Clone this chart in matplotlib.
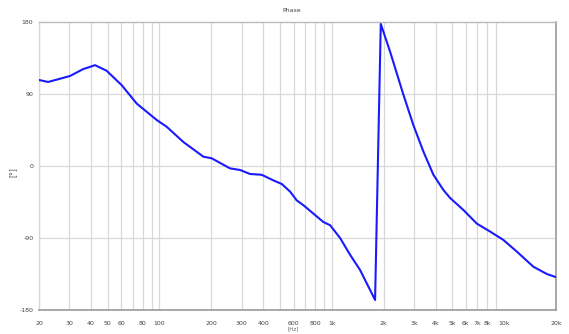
import matplotlib
matplotlib.use("Agg")
import matplotlib.pyplot as plt
from matplotlib.ticker import FixedLocator, NullFormatter, NullLocator

# Phase response, frequency in Hz and phase in degrees
freq_hz = [20, 22.6, 30.3, 36, 42.3, 49.4, 60.4, 73.8, 96.4, 110.2, 137.6,
           179.9, 201, 256.8, 293.6, 335.6, 392.3, 458, 512.5, 572.6, 626,
           684, 893, 977, 1117, 1277, 1459, 1783, 1924, 2178, 2604, 2975,
           3400, 3886, 4443, 4858, 5803, 6940, 8292, 9903, 11844, 14790,
           17690, 20000]
phase_deg = [107.5, 105, 112.5, 121, 126, 119, 101, 78, 57.5, 49, 30,
             11.6, 9.6, -3, -5, -10, -11, -18, -22.5, -32, -43,
             -49, -70, -74, -90, -111, -130, -167.5, 177.5, 143, 89, 51,
             18, -11, -30, -40, -55, -72, -82, -92.5, -107, -126,
             -135, -139]

grid_freqs = [m * 10 ** e for e in (1, 2, 3) for m in range(1, 10)
              if 20 <= m * 10 ** e <= 20000] + [20000]
label_freqs = [20, 30, 40, 50, 60, 80, 100, 200, 300, 400, 600, 800, 1000,
               2000, 3000, 4000, 5000, 6000, 7000, 8000, 10000, 20000]
label_texts = ["20", "30", "40", "50", "60", "80", "100", "200", "300", "400",
               "600", "800", "1k", "2k", "3k", "4k", "5k", "6k", "7k", "8k",
               "10k", "20k"]
y_ticks = [-180, -90, 0, 90, 180]

fig = plt.figure(figsize=(5.69, 3.34), dpi=100)
ax = fig.add_axes([0.0685, 0.0719, 0.9087, 0.8623])
ax.set_xscale("log")
ax.set_xlim(20, 20000)
ax.set_ylim(-180, 180)

grid_color = "#d8d8d8"
for f in grid_freqs:
    ax.axvline(f, color=grid_color, lw=0.9, zorder=0)
for y in (-90, 0, 90):
    ax.axhline(y, color=grid_color, lw=0.9, zorder=0)

ax.plot(freq_hz, phase_deg, color="#1a1aff", lw=1.5, zorder=3,
        solid_joinstyle="round")

ax.xaxis.set_major_locator(FixedLocator(label_freqs))
ax.set_xticklabels(label_texts)
ax.xaxis.set_minor_locator(NullLocator())
ax.xaxis.set_minor_formatter(NullFormatter())
ax.set_yticks(y_ticks)
ax.set_yticklabels([str(v) for v in y_ticks])
ax.tick_params(axis="x", length=0, pad=8, labelsize=4.5, colors="#444444")
ax.tick_params(axis="y", length=0, pad=4, labelsize=4.5, colors="#444444")

ax.spines["left"].set_color(grid_color)
ax.spines["left"].set_linewidth(1.0)
ax.spines["top"].set_color("#bbbbbb")
ax.spines["top"].set_linewidth(1.0)
ax.spines["bottom"].set_color("#999999")
ax.spines["bottom"].set_linewidth(1.2)
ax.spines["right"].set_color("#999999")
ax.spines["right"].set_linewidth(1.2)

fig.text(0.513, 0.97, "Phase", ha="center", va="center", fontsize=4.5,
         color="#444444")
fig.text(0.515, 0.008, "[Hz]", ha="center", va="bottom", fontsize=4,
         color="#666666")
fig.text(0.023, 0.485, "[°]", ha="center", va="center", fontsize=5.5,
         rotation=90, color="#555555")

fig.savefig("out.png", dpi=100)
